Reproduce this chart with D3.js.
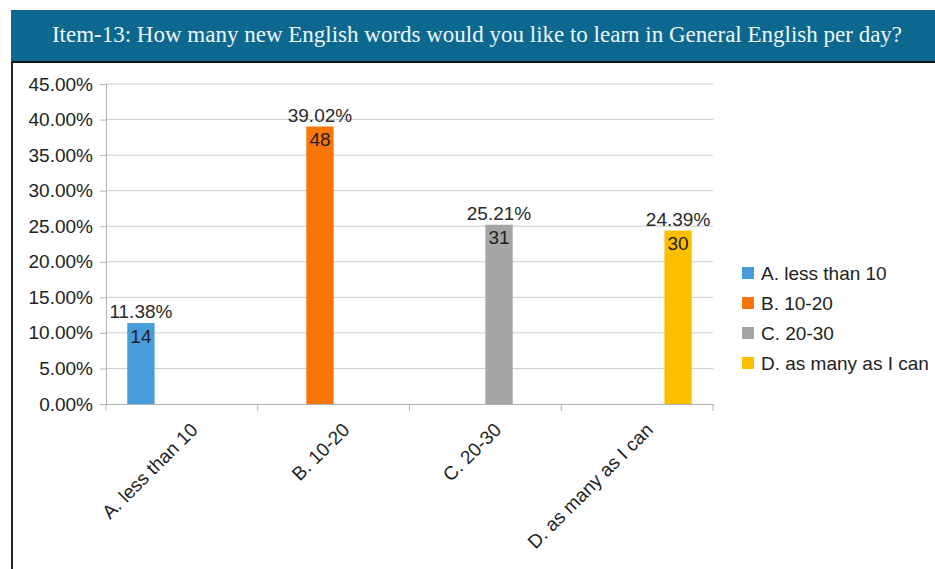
<!DOCTYPE html>
<html>
<head>
<meta charset="utf-8">
<script src="https://cdn.jsdelivr.net/npm/d3@7"></script>
<style>
  html, body { margin: 0; padding: 0; background: #ffffff; }
  svg { display: block; }
</style>
</head>
<body>
<svg id="chart" width="935" height="569"></svg>
<script>
const titleText = "Item-13: How many new English words would you like to learn in General English per day?";
const categories = ["A. less than 10", "B. 10-20", "C. 20-30", "D. as many as I can"];
const seriesNames = ["A. less than 10", "B. 10-20", "C. 20-30", "D. as many as I can"];
const percentValues = [11.38, 39.02, 25.21, 24.39];
const countValues = [14, 48, 31, 30];
const percentLabels = ["11.38%", "39.02%", "25.21%", "24.39%"];
const yTickValues = [0, 5, 10, 15, 20, 25, 30, 35, 40, 45];
const seriesColors = ["#479cdb", "#fb7608", "#a5a5a5", "#fdbe00"];

(function () {
const svg = d3.select("#chart");
const W = 935, H = 569;
const font = "'Liberation Sans', Arial, Helvetica, sans-serif";

// Header band
svg.append("rect").attr("x", 11).attr("y", 10).attr("width", W - 11).attr("height", 51)
  .attr("fill", "#0d6890");
svg.append("text").attr("x", 477).attr("y", 42).attr("text-anchor", "middle")
  .attr("font-family", "'Liberation Serif', 'Times New Roman', serif")
  .attr("font-size", 23).attr("fill", "#eef6f9").text(titleText);
// frame lines
svg.append("rect").attr("x", 11).attr("y", 61).attr("width", W - 11).attr("height", 2).attr("fill", "#111");
svg.append("rect").attr("x", 11).attr("y", 61).attr("width", 2).attr("height", H - 61).attr("fill", "#222");

// Plot area
const pLeft = 106, pRight = 713, pTop = 84, pBottom = 404;
const x0 = d3.scaleBand().domain(categories).range([pLeft, pRight]).paddingInner(0).paddingOuter(0);
const bw = x0.bandwidth();
const x1 = d3.scaleBand().domain(seriesNames).range([bw * 0.14, bw * 0.86]).padding(0);
const y = d3.scaleLinear().domain([0, 45]).range([pBottom, pTop]);

// gridlines
svg.append("g").selectAll("line").data(yTickValues.filter(d => d > 0)).join("line")
  .attr("x1", pLeft).attr("x2", pRight)
  .attr("y1", d => y(d)).attr("y2", d => y(d))
  .attr("stroke", "#cdcdcd").attr("stroke-width", 1);

// y axis
const yAxis = d3.axisLeft(y).tickValues(yTickValues).tickSize(6).tickPadding(7)
  .tickFormat(d => d.toFixed(2) + "%");
const gy = svg.append("g").attr("transform", `translate(${pLeft},0)`).call(yAxis);
gy.select(".domain").attr("stroke", "#b3b3b3");
gy.selectAll(".tick line").attr("stroke", "#b3b3b3");
gy.selectAll(".tick text").attr("font-family", font).attr("font-size", 19).attr("fill", "#222");

// x axis
const xAxis = d3.axisBottom(x0).tickSize(0).tickFormat("");
const gx = svg.append("g").attr("transform", `translate(0,${pBottom})`).call(xAxis);
gx.select(".domain").attr("stroke", "#b3b3b3");
// category boundary ticks
const bounds = categories.map(c => x0(c)).concat([pRight]);
svg.append("g").selectAll("line").data(bounds).join("line")
  .attr("x1", d => d).attr("x2", d => d).attr("y1", pBottom).attr("y2", pBottom + 7)
  .attr("stroke", "#b3b3b3");
// rotated labels
svg.append("g").selectAll("text").data(categories).join("text")
  .attr("transform", d => `translate(${x0(d) + bw / 2 + 17},${pBottom + 27}) rotate(-45)`)
  .attr("text-anchor", "end")
  .attr("font-family", font).attr("font-size", 19).attr("fill", "#222")
  .text(d => d);

// bars
const bars = categories.map((c, i) => ({ cat: c, ser: seriesNames[i], pct: percentValues[i], cnt: countValues[i], lab: percentLabels[i], color: seriesColors[i] }));
const gb = svg.append("g");
gb.selectAll("rect").data(bars).join("rect")
  .attr("x", d => x0(d.cat) + x1(d.ser))
  .attr("y", d => y(d.pct))
  .attr("width", x1.bandwidth())
  .attr("height", d => pBottom - y(d.pct))
  .attr("fill", d => d.color);
gb.selectAll("text.pct").data(bars).join("text").attr("class", "pct")
  .attr("x", d => x0(d.cat) + x1(d.ser) + x1.bandwidth() / 2)
  .attr("y", d => y(d.pct) - 5)
  .attr("text-anchor", "middle").attr("font-family", font).attr("font-size", 19).attr("fill", "#2a2a2a")
  .text(d => d.lab);
gb.selectAll("text.cnt").data(bars).join("text").attr("class", "cnt")
  .attr("x", d => x0(d.cat) + x1(d.ser) + x1.bandwidth() / 2)
  .attr("y", d => y(d.pct) + 19.5)
  .attr("text-anchor", "middle").attr("font-family", font).attr("font-size", 19).attr("fill", "#1e1e1e")
  .text(d => d.cnt);

// legend
const lg = svg.append("g").attr("transform", "translate(742,280)");
const rowH = 30;
lg.selectAll("rect").data(seriesNames).join("rect")
  .attr("x", 0).attr("y", (d, i) => i * rowH - 13).attr("width", 12).attr("height", 12)
  .attr("fill", (d, i) => seriesColors[i]);
lg.selectAll("text").data(seriesNames).join("text")
  .attr("x", 19).attr("y", (d, i) => i * rowH)
  .attr("font-family", font).attr("font-size", 19).attr("fill", "#222")
  .text(d => d);
})();
</script>
</body>
</html>
